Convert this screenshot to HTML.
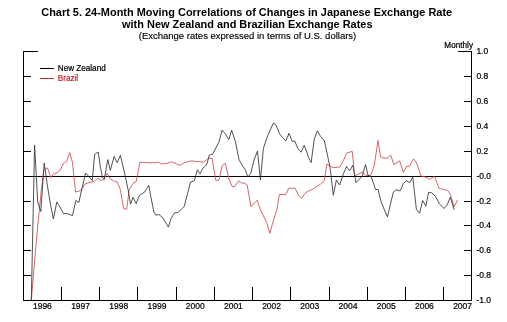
<!DOCTYPE html>
<html><head><meta charset="utf-8"><style>
html,body{margin:0;padding:0;background:#fff;width:507px;height:322px;overflow:hidden}
svg{display:block;will-change:transform}
text{font-family:"Liberation Sans",sans-serif;fill:#000}
.sm{stroke:#000;stroke-width:0.22}
</style></head><body>
<svg width="507" height="322" viewBox="0 0 507 322">
<g font-weight="bold" font-size="11" text-anchor="middle">
<text x="246.7" y="16" font-size="10.95">Chart 5. 24-Month Moving Correlations of Changes in Japanese Exchange Rate</text>
<text x="247.3" y="28" font-size="10.95">with New Zealand and Brazilian Exchange Rates</text>
</g>
<text x="247.5" y="39" font-size="9.5" text-anchor="middle" style="stroke:#000;stroke-width:0.15">(Exchange rates expressed in terms of U.S. dollars)</text>
<text x="473" y="48" font-size="8.2" text-anchor="end" class="sm">Monthly</text>
<g stroke="#000" stroke-width="1" fill="none" shape-rendering="crispEdges">
<path d="M23.5,51 V300.5 M471.5,51 V300.5 M23,300.5 H472 M23,51.5 H38 M458,51.5 H472 M23,76.5 H31 M464,76.5 H472 M23,101.5 H31 M464,101.5 H472 M23,126.5 H31 M464,126.5 H472 M23,151.5 H31 M464,151.5 H472 M23,176.5 H31 M464,176.5 H472 M23,201.5 H31 M464,201.5 H472 M23,225.5 H31 M464,225.5 H472 M23,250.5 H31 M464,250.5 H472 M23,275.5 H31 M464,275.5 H472 M23,176.5 H472 M61.5,287 V300 M99.5,287 V300 M137.5,287 V300 M176.5,287 V300 M214.5,287 V300 M252.5,287 V300 M290.5,287 V300 M329.5,287 V300 M367.5,287 V300 M405.5,287 V300 M443.5,287 V300"/>
<path d="M40,68.5 H54"/>
<path d="M40,78.5 H54" stroke="#c42a2a"/>
</g>
<g font-size="8.5" class="sm">
<text x="476.4" y="53.5">1.0</text><text x="476.4" y="78.5">0.8</text><text x="476.4" y="103.5">0.6</text><text x="476.4" y="128.5">0.4</text><text x="476.4" y="153.5">0.2</text><text x="476.4" y="178.5">-0.0</text><text x="476.4" y="203.5">-0.2</text><text x="476.4" y="227.5">-0.4</text><text x="476.4" y="252.5">-0.6</text><text x="476.4" y="277.5">-0.8</text><text x="476.4" y="302.5">-1.0</text>
</g>
<g font-size="8.5" text-anchor="middle" class="sm">
<text x="42.4" y="309">1996</text><text x="80.6" y="309">1997</text><text x="118.8" y="309">1998</text><text x="157.0" y="309">1999</text><text x="195.2" y="309">2000</text><text x="233.4" y="309">2001</text><text x="271.6" y="309">2002</text><text x="309.8" y="309">2003</text><text x="348.0" y="309">2004</text><text x="386.2" y="309">2005</text><text x="424.4" y="309">2006</text><text x="462.6" y="309">2007</text>
</g>
<text x="57.8" y="71" font-size="8.15" class="sm">New Zealand</text>
<text x="57.8" y="81" font-size="8.15" class="sm" style="fill:#c81e28;stroke:#c81e28">Brazil</text>
<g fill="none" stroke-width="0.85" stroke-linejoin="round">
<path d="M31.3,300.0 L34.5,262.0 L37.7,226.0 L40.9,194.0 L43.6,171.0 L45.4,168.5 L47.5,168.0 L50.8,177.5 L53.9,173.5 L57.1,172.8 L60.2,170.3 L63.4,163.4 L66.6,161.5 L69.7,152.6 L72.4,162.0 L75.6,192.0 L78.6,191.4 L81.5,189.5 L85.3,183.8 L90.0,182.3 L93.9,181.5 L97.7,178.4 L101.6,180.5 L104.4,178.5 L107.1,173.3 L110.3,178.9 L113.5,180.8 L117.2,182.1 L120.4,189.7 L123.6,208.6 L126.7,209.2 L129.2,189.7 L133.0,183.4 L136.2,181.5 L138.5,170.0 L140.0,162.1 L147.6,162.7 L155.2,162.7 L158.3,162.1 L161.5,164.0 L167.1,163.4 L171.6,161.7 L176.6,164.0 L180.4,165.3 L184.2,162.7 L191.8,160.8 L195.6,161.5 L203.8,162.0 L208.8,158.2 L212.0,158.2 L215.8,180.3 L218.9,180.3 L222.1,165.8 L225.3,163.3 L229.0,179.0 L232.2,186.6 L234.7,186.6 L238.5,180.9 L241.7,182.8 L244.8,183.5 L247.2,185.0 L250.9,206.5 L257.3,200.2 L260.4,209.6 L266.7,222.6 L269.9,233.4 L272.4,223.9 L276.8,210.0 L279.4,194.5 L285.7,194.5 L288.8,188.2 L295.1,188.2 L298.3,195.1 L301.5,198.3 L305.2,193.2 L308.0,191.3 L313.0,189.1 L318.1,185.4 L320.0,184.7 L324.4,180.3 L326.9,163.9 L329.5,165.8 L333.3,167.7 L339.6,167.0 L343.4,160.7 L346.5,153.2 L352.2,151.3 L354.7,175.9 L362.3,172.1 L365.5,175.3 L370.5,175.9 L374.3,165.2 L378.0,140.5 L380.6,156.9 L381.9,157.7 L386.9,158.3 L390.7,155.2 L393.9,164.6 L399.6,160.8 L403.4,172.2 L406.5,166.5 L409.7,165.9 L413.5,158.9 L416.6,162.7 L421.0,176.0 L426.1,177.2 L429.2,179.3 L434.6,176.5 L439.1,188.5 L443.4,189.3 L447.8,190.5 L450.3,194.3 L454.1,206.8 L457.5,200.0" stroke="#d04a4a"/>
<path d="M31.3,300.0 L34.6,145.0 L37.7,202.0 L40.8,211.5 L44.2,163.0 L47.3,185.0 L50.4,204.0 L53.4,219.0 L56.8,202.0 L60.5,208.0 L63.4,213.5 L66.6,213.5 L69.7,214.5 L72.5,215.6 L75.8,200.5 L78.8,202.5 L81.4,191.0 L85.6,173.0 L88.4,176.0 L92.3,180.5 L94.6,154.5 L98.3,152.0 L100.2,166.0 L102.5,178.0 L104.2,179.6 L107.8,159.6 L110.3,170.3 L114.1,156.4 L117.2,162.7 L120.4,155.2 L125.0,175.0 L128.6,192.2 L130.5,204.2 L133.0,197.3 L136.2,203.6 L139.3,195.4 L144.5,192.2 L148.8,185.3 L150.7,196.0 L153.9,212.0 L155.8,215.1 L158.9,214.5 L162.7,217.6 L168.4,227.1 L170.9,218.9 L174.7,212.6 L177.9,212.6 L184.2,206.5 L190.5,182.1 L194.3,180.8 L197.4,169.7 L200.0,173.8 L203.2,167.7 L205.0,166.4 L207.0,163.9 L209.3,155.0 L212.6,154.2 L218.9,142.1 L222.1,130.1 L225.3,133.9 L228.8,139.6 L231.6,130.1 L235.4,141.5 L239.1,160.1 L242.9,166.4 L245.5,170.2 L247.8,177.0 L250.8,173.4 L254.0,160.0 L257.5,151.0 L260.4,180.0 L263.4,148.5 L266.9,137.7 L270.1,130.2 L273.3,123.2 L275.8,124.5 L279.6,133.9 L282.7,137.7 L285.9,140.9 L289.0,133.3 L292.2,141.5 L294.7,140.9 L297.9,148.5 L301.0,152.2 L304.2,145.3 L306.1,150.0 L308.6,157.6 L311.1,162.6 L314.3,139.0 L317.4,130.8 L320.6,136.5 L324.4,140.8 L330.1,167.7 L333.3,195.2 L336.4,180.0 L339.6,185.0 L343.4,174.0 L346.5,166.4 L349.7,170.8 L352.8,165.2 L356.0,182.7 L362.3,175.9 L365.5,164.5 L368.0,175.3 L371.1,176.5 L375.6,189.5 L378.1,189.5 L380.6,200.2 L384.0,209.0 L387.4,216.9 L393.3,192.2 L396.4,189.7 L400.2,190.9 L403.4,183.4 L406.5,180.8 L409.7,182.7 L412.8,177.0 L416.4,209.4 L419.6,213.2 L422.7,200.5 L425.9,206.2 L428.6,192.2 L431.8,192.8 L435.6,196.6 L439.5,204.0 L444.1,208.5 L447.2,204.8 L450.3,197.3 L454.2,209.8" stroke="#333"/>
</g>
</svg>
</body></html>
